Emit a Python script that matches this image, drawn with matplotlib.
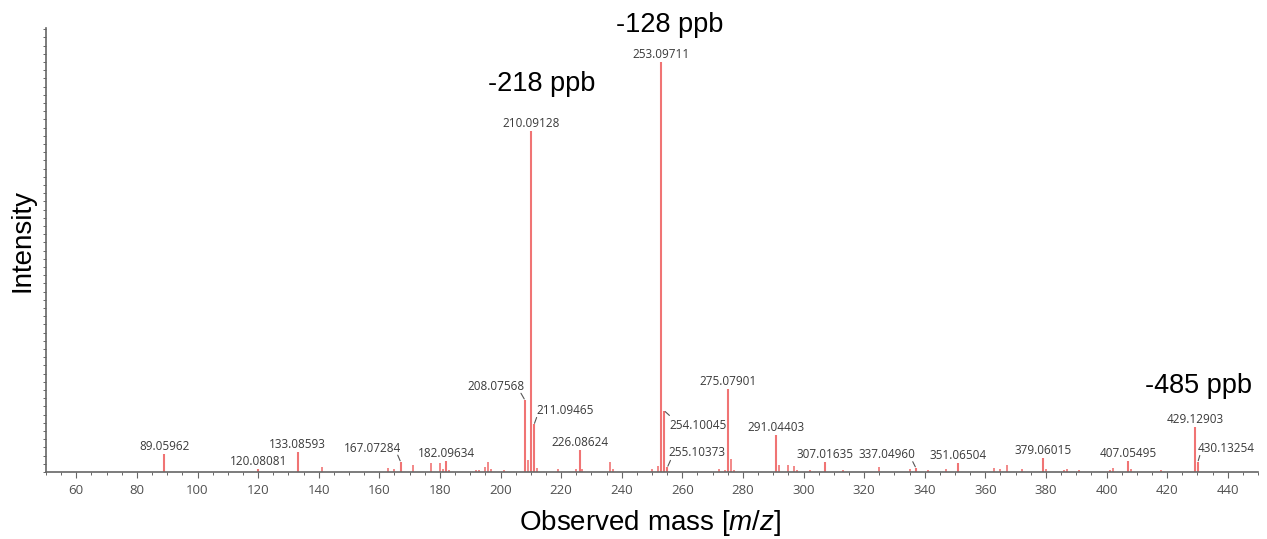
import numpy as np
import matplotlib
matplotlib.use('Agg')
import matplotlib.pyplot as plt
from matplotlib.ticker import MultipleLocator, NullFormatter

# labelled peaks (m/z, relative intensity, base peak = 100)
label_mz = [89.05962, 120.08081, 133.08593, 167.07284, 182.09634,
            208.07568, 210.09128, 211.09465, 226.08624, 253.09711,
            254.10045, 255.10373, 275.07901, 291.04403, 307.01635,
            337.04960, 351.06504, 379.06015, 407.05495, 429.12903,
            430.13254]
label_int = [4.3, 0.66, 4.8, 2.4, 2.7,
             17.5, 83.2, 11.6, 5.3, 100.0,
             14.9, 1.2, 20.3, 9.1, 2.4,
             1.05, 2.1, 3.4, 2.6, 11.0,
             2.4]

# small unlabelled peaks
minor_mz = [141.0, 163.0, 165.0, 171.0, 177.0, 180.0, 181.0, 183.0,
            192.0, 193.0, 195.0, 196.0, 197.0, 201.0, 209.1, 212.0,
            219.0, 225.0, 227.0, 236.0, 237.0, 250.0, 252.0, 272.0,
            274.0, 276.0, 277.0, 292.0, 295.0, 297.0, 298.0, 302.0,
            313.0, 325.0, 335.0, 341.0, 347.0, 363.0, 365.0, 367.0,
            372.0, 380.0, 386.0, 387.0, 391.0, 401.0, 402.0, 408.0,
            418.0]
minor_int = [1.2, 1.0, 0.7, 1.6, 2.1, 2.3, 0.65, 0.4,
             0.6, 0.6, 1.2, 2.4, 0.65, 0.4, 3.0, 1.05,
             0.7, 0.8, 0.8, 2.4, 0.65, 0.65, 1.5, 0.65,
             0.4, 3.25, 0.57, 1.6, 1.6, 1.4, 0.57, 0.4,
             0.4, 1.2, 0.65, 0.4, 0.8, 1.0, 0.65, 1.6,
             0.65, 0.8, 0.5, 0.65, 0.57, 0.4, 1.0, 0.65,
             0.4]

# mass error annotations
ppb_mz = [210.09128, 253.09711, 429.12903]
ppb_text = ['-218 ppb', '-128 ppb', '-485 ppb']

x_ticks = np.arange(60, 441, 20)

# label placement, pixels from the peak top (dx, dy) and leader start / gap
label_off = {167.07284: (-28, 10), 208.07568: (-29, 10), 211.09465: (31, 10),
             254.10045: (34, -18), 255.10373: (29, 11), 337.04960: (-29, 10),
             430.13254: (28, 10)}
leaders = {167.07284: ((-3, 7), 1.5), 208.07568: ((-4, 7), 1.5),
           211.09465: ((2.5, 7), 1.2), 254.10045: ((5, -4.5), 1.0),
           255.10373: ((3, 6.7), 1.0), 337.04960: ((-3, 6), 1.0),
           430.13254: ((2, 6.7), 1.5)}
ppb_off = [(11, 40), (8, 30), (4, 34)]

peak_color = '#f07474'
text_color = '#3a3a3a'
axis_color = '#666666'

plt.rcParams['mathtext.fontset'] = 'custom'
plt.rcParams['mathtext.rm'] = 'Liberation Sans'
plt.rcParams['mathtext.it'] = 'Liberation Sans:italic'

fig = plt.figure(figsize=(12.67, 5.39), dpi=100)
ax = fig.add_axes([46 / 1267, 67 / 539, 1212 / 1267, 444 / 539])

ax.vlines(minor_mz, 0, minor_int, color=peak_color, lw=1.2)
ax.vlines(label_mz, 0, label_int, color=peak_color, lw=1.5)

for mz, h in zip(label_mz, label_int):
    dx, dy = label_off.get(mz, (0, 4))
    ax.annotate('%.5f' % mz, xy=(mz, h), xytext=(dx, dy),
                textcoords='offset pixels', ha='center', va='baseline',
                fontsize=8.5, family='Open Sans', color=text_color)
    if mz in leaders:
        (x0, y0), gap = leaders[mz]
        ax.annotate('', xy=(mz, h), xytext=(x0, y0), textcoords='offset pixels',
                    arrowprops=dict(arrowstyle='-', color='#555555', lw=0.8,
                                    shrinkA=0, shrinkB=gap * 0.72))

for mz, txt, (dx, dy) in zip(ppb_mz, ppb_text, ppb_off):
    h = label_int[label_mz.index(mz)]
    ax.annotate(txt, xy=(mz, h), xytext=(dx, dy), textcoords='offset pixels',
                ha='center', va='baseline', fontsize=19.5,
                family='Liberation Sans', color='black')

ax.set_xlim(50, 450)
ax.set_ylim(0, 108.3)

for side in ['top', 'right']:
    ax.spines[side].set_visible(False)
for side in ['left', 'bottom']:
    ax.spines[side].set_color(axis_color)
    ax.spines[side].set_linewidth(1.2)

ax.set_xticks(x_ticks)
ax.xaxis.set_minor_locator(MultipleLocator(5))
ax.tick_params(axis='x', which='major', length=4, width=0.8, color=axis_color,
               labelsize=9.5, labelcolor='#505050', pad=5)
ax.tick_params(axis='x', which='minor', length=2.5, width=0.7, color=axis_color)
for lab in ax.get_xticklabels():
    lab.set_family('Open Sans')

ax.yaxis.set_major_locator(MultipleLocator(2))
ax.yaxis.set_major_formatter(NullFormatter())
ax.tick_params(axis='y', which='major', length=2, width=0.7, color=axis_color)

fig.text(650 / 1267, 1 - 530 / 539, 'Observed mass [$\\mathit{m/z}$]',
         ha='center', va='baseline', fontsize=20, family='Liberation Sans')
fig.text(22 / 1267, 1 - 241 / 539, 'Intensity', rotation=90,
         ha='center', va='center', fontsize=20, family='Liberation Sans')

fig.savefig('out.png', dpi=100)
